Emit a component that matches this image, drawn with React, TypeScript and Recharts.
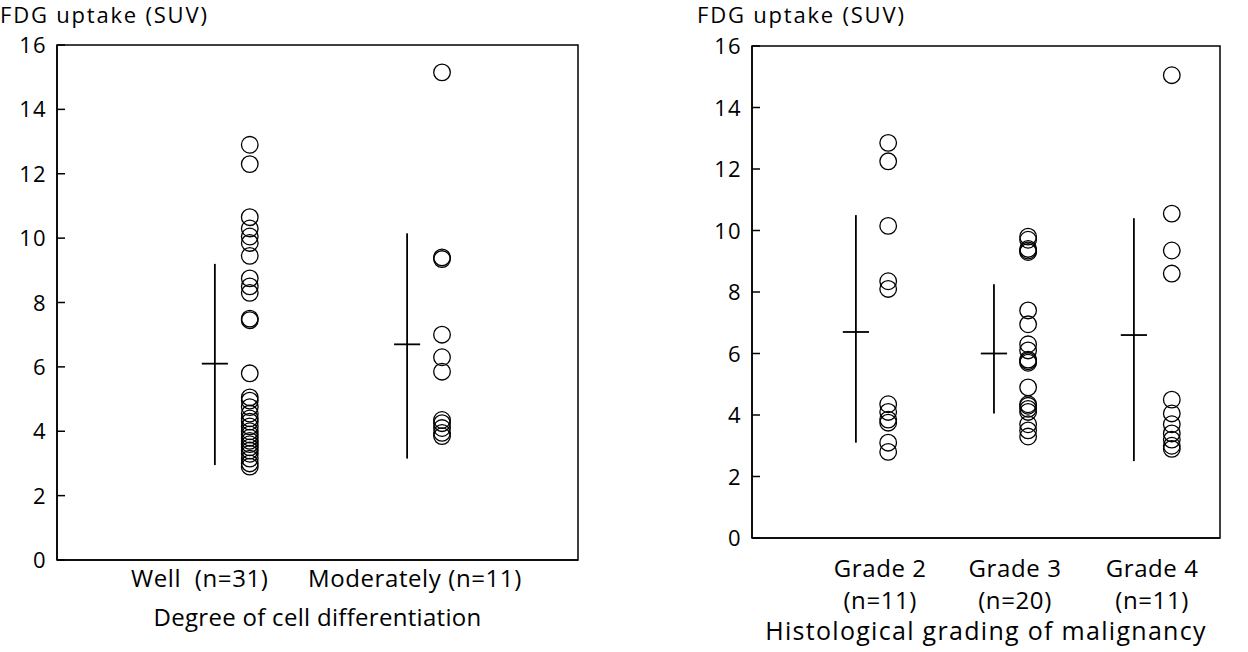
import React from 'react';
import {
  ScatterChart,
  Scatter,
  XAxis,
  YAxis,
  ReferenceLine,
  ReferenceArea,
  Label,
} from 'recharts';

// values (SUV)
const wellValues = [
  12.9, 12.3, 10.65, 10.3, 10.05, 9.85, 9.45, 8.75, 8.5, 8.3, 7.5, 7.45, 5.8, 5.05, 4.95,
  4.75, 4.55, 4.4, 4.3, 4.15, 4.0, 3.9, 3.8, 3.7, 3.6, 3.5, 3.4, 3.3, 3.15, 3.0, 2.9,
];
const moderatelyValues = [15.15, 9.4, 9.35, 7.0, 6.3, 5.85, 4.35, 4.25, 4.1, 3.95, 3.85];

const grade2Values = [12.85, 12.25, 10.15, 8.35, 8.1, 4.35, 4.1, 3.85, 3.75, 3.1, 2.8];
const grade3Values = [
  9.8, 9.7, 9.4, 9.35, 9.3, 7.4, 6.95, 6.3, 6.1, 5.8, 5.75, 5.7, 4.9, 4.35, 4.3, 4.2, 4.1,
  3.7, 3.5, 3.3,
];
const grade4Values = [15.05, 10.55, 9.35, 8.6, 4.5, 4.05, 3.7, 3.4, 3.2, 3.0, 2.9];

// mean and mean ± SD range per group: [mean, low, high]
const differentiationStats = [
  [6.1, 2.95, 9.2],
  [6.7, 3.15, 10.15],
];
const gradingStats = [
  [6.7, 3.1, 10.5],
  [6.0, 4.05, 8.25],
  [6.6, 2.5, 10.4],
];

const differentiationLabels = ['Well  (n=31)', 'Moderately (n=11)'];
const gradingLabels = ['Grade 2', 'Grade 3', 'Grade 4'];
const gradingCounts = ['(n=11)', '(n=20)', '(n=11)'];

const yTicks = [0, 2, 4, 6, 8, 10, 12, 14, 16];

// x placement on a 0..10 scale
const leftLineX = [3.03, 6.72];
const leftDotX = [3.7, 7.39];
const leftLabelX = [2.74, 6.87];
const rightLineX = [2.22, 5.17, 8.16];
const rightDotX = [2.91, 5.9, 8.97];
const rightLabelX = [2.74, 5.62, 8.55];

const FONT = '"Open Sans", sans-serif';

const Ring = (props: any) => (
  <circle cx={props.cx} cy={props.cy} r={8.3} fill="none" stroke="#000" strokeWidth={1.3} />
);

const YTick = ({ x, y, payload }: any) => (
  <g>
    <line x1={x + 10} x2={x + 18} y1={y} y2={y} stroke="#000" strokeWidth={1.5} />
    <text
      x={x}
      y={y}
      dy={8}
      textAnchor="end"
      fontSize={22}
      fontFamily={FONT}
      fill="#000"
      letterSpacing={1.3}
    >
      {payload.value}
    </text>
  </g>
);

const LeftXTick = ({ x, y, index }: any) => (
  <text
    x={x}
    y={y}
    dy={19}
    textAnchor="middle"
    fontSize={24}
    fontFamily={FONT}
    fill="#000"
    letterSpacing={0.6}
    style={{ whiteSpace: 'pre' }}
  >
    {differentiationLabels[index]}
  </text>
);

const RightXTick = ({ x, y, index }: any) => (
  <text
    x={x}
    y={y}
    textAnchor="middle"
    fontSize={24}
    fontFamily={FONT}
    fill="#000"
    letterSpacing={0.6}
  >
    <tspan x={x} dy={31}>{gradingLabels[index]}</tspan>
    <tspan x={x} dy={32}>{gradingCounts[index]}</tspan>
  </text>
);

function GroupMarks(lineX: number[], stats: number[][], half: number) {
  return stats.flatMap(([mean, lo, hi], i) => [
    <ReferenceLine
      key={`v${i}`}
      segment={[{ x: lineX[i], y: lo }, { x: lineX[i], y: hi }]}
      stroke="#000"
      strokeWidth={1.8}
    />,
    <ReferenceLine
      key={`h${i}`}
      segment={[{ x: lineX[i] - half, y: mean }, { x: lineX[i] + half, y: mean }]}
      stroke="#000"
      strokeWidth={1.8}
    />,
  ]);
}

const titleStyle: React.CSSProperties = {
  position: 'absolute',
  top: -1,
  fontFamily: FONT,
  fontSize: 22,
  letterSpacing: 1.8,
  color: '#000',
  lineHeight: 'normal',
};

export default function App() {
  const leftGroups = [wellValues, moderatelyValues];
  const rightGroups = [grade2Values, grade3Values, grade4Values];

  return (
    <div
      style={{
        position: 'absolute',
        left: 0,
        top: 0,
        width: 1248,
        height: 652,
        background: '#fff',
        overflow: 'hidden',
      }}
    >
      <div style={{ ...titleStyle, left: 0 }}>FDG uptake (SUV)</div>
      <div style={{ ...titleStyle, left: 697 }}>FDG uptake (SUV)</div>

      <div style={{ position: 'absolute', left: 0, top: 0 }}>
        <ScatterChart width={620} height={652} margin={{ top: 45, right: 42, bottom: 26, left: 17 }}>
          <XAxis
            type="number"
            dataKey="x"
            domain={[0, 10]}
            ticks={leftLabelX}
            tick={<LeftXTick />}
            tickLine={false}
            axisLine={{ stroke: '#000', strokeWidth: 1.5 }}
            height={66}
            interval={0}
          >
            <Label
              value="Degree of cell differentiation"
              position="insideBottom"
              offset={0}
              fontSize={24}
              fontFamily={FONT}
              letterSpacing={0.3}
              fill="#000"
            />
          </XAxis>
          <YAxis
            type="number"
            dataKey="y"
            domain={[0, 16]}
            ticks={yTicks}
            tick={<YTick />}
            tickLine={false}
            tickSize={0}
            tickMargin={10}
            axisLine={{ stroke: '#000', strokeWidth: 1.5 }}
            width={40}
            interval={0}
          />
          <ReferenceArea x1={0} x2={10} y1={0} y2={16} fill="none" stroke="#000" strokeWidth={1.5} />
          {GroupMarks(leftLineX, differentiationStats, 0.25)}
          {leftGroups.map((vals, i) => (
            <Scatter
              key={i}
              data={vals.map((v) => ({ x: leftDotX[i], y: v }))}
              shape={Ring}
              isAnimationActive={false}
            />
          ))}
        </ScatterChart>
      </div>

      <div style={{ position: 'absolute', left: 700, top: 0 }}>
        <ScatterChart width={548} height={652} margin={{ top: 46, right: 28, bottom: 12, left: 12 }}>
          <XAxis
            type="number"
            dataKey="x"
            domain={[0, 10]}
            ticks={rightLabelX}
            tick={<RightXTick />}
            tickLine={false}
            axisLine={{ stroke: '#000', strokeWidth: 1.5 }}
            height={102}
            interval={0}
          >
            <Label
              value="Histological grading of malignancy"
              position="insideBottom"
              offset={0}
              fontSize={25}
              fontFamily={FONT}
              letterSpacing={1.3}
              fill="#000"
            />
          </XAxis>
          <YAxis
            type="number"
            dataKey="y"
            domain={[0, 16]}
            ticks={yTicks}
            tick={<YTick />}
            tickLine={false}
            tickSize={0}
            tickMargin={10}
            axisLine={{ stroke: '#000', strokeWidth: 1.5 }}
            width={40}
            interval={0}
          />
          <ReferenceArea x1={0} x2={10} y1={0} y2={16} fill="none" stroke="#000" strokeWidth={1.5} />
          {GroupMarks(rightLineX, gradingStats, 0.28)}
          {rightGroups.map((vals, i) => (
            <Scatter
              key={i}
              data={vals.map((v) => ({ x: rightDotX[i], y: v }))}
              shape={Ring}
              isAnimationActive={false}
            />
          ))}
        </ScatterChart>
      </div>
    </div>
  );
}
